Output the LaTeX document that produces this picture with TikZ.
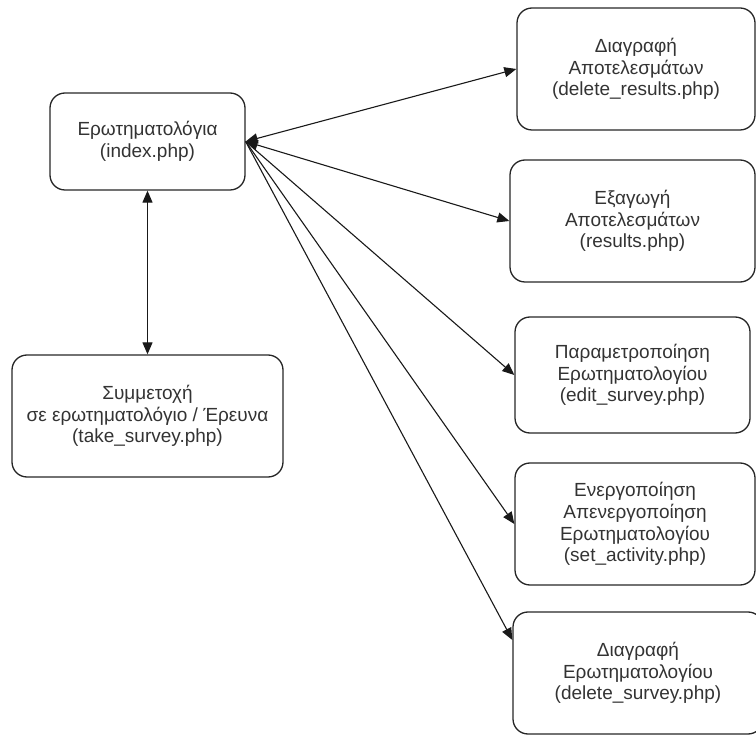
\documentclass[tikz,border=0pt]{standalone}
\usepackage{fontspec}
\setmainfont{Liberation Sans}
\usetikzlibrary{arrows.meta}

\begin{document}
\begin{tikzpicture}[x=1pt, y=-1pt, >={Triangle[length=12pt,width=10pt]},
  box/.style={draw=black!85, line width=1.3pt, rounded corners=15pt, align=center,
    text=black!80, font=\fontsize{19}{21.7}\selectfont},
  link/.style={line width=1.1pt, draw=black!90}]
  \useasboundingbox (0,0) rectangle (756,735);
  \clip (0,0) rectangle (756,735);

  % left column
  \node[box, minimum width=195pt, minimum height=97pt] (index) at (147.5,141.5)
    {Ερωτηματολόγια\\(index.php)};
  \node[box, minimum width=271pt, minimum height=122pt] (take) at (147.5,416)
    {Συμμετοχή\\σε ερωτηματολόγιο / Έρευνα\\(take\_survey.php)};

  % right column
  \node[box, minimum width=238pt, minimum height=122pt] (delres) at (636,69)
    {Διαγραφή\\Αποτελεσμάτων\\(delete\_results.php)};
  \node[box, minimum width=245pt, minimum height=122pt] (res) at (632.5,221)
    {Εξαγωγή\\Αποτελεσμάτων\\(results.php)};
  \node[box, minimum width=235pt, minimum height=116pt] (edit) at (632.5,375)
    {Παραμετροποίηση\\Ερωτηματολογίου\\(edit\_survey.php)};
  \node[box, minimum width=240pt, minimum height=122pt] (setact) at (635,524)
    {Ενεργοποίηση\\Απενεργοποίηση\\Ερωτηματολογίου\\(set\_activity.php)};
  \node[box, minimum width=250pt, minimum height=122pt] (delsurv) at (638,673)
    {Διαγραφή\\Ερωτηματολογίου\\(delete\_survey.php)};

  % links
  \draw[link,<->] (index) -- (take);
  \draw[link,<->] (index.east) -- (delres.west);
  \draw[link,<->] (index.east) -- (res.west);
  \draw[link,->] (index.east) -- (edit.west);
  \draw[link,->] (index.east) -- (setact.west);
  \draw[link,->] (index.east) -- ([yshift=33pt]delsurv.west);
\end{tikzpicture}
\end{document}
